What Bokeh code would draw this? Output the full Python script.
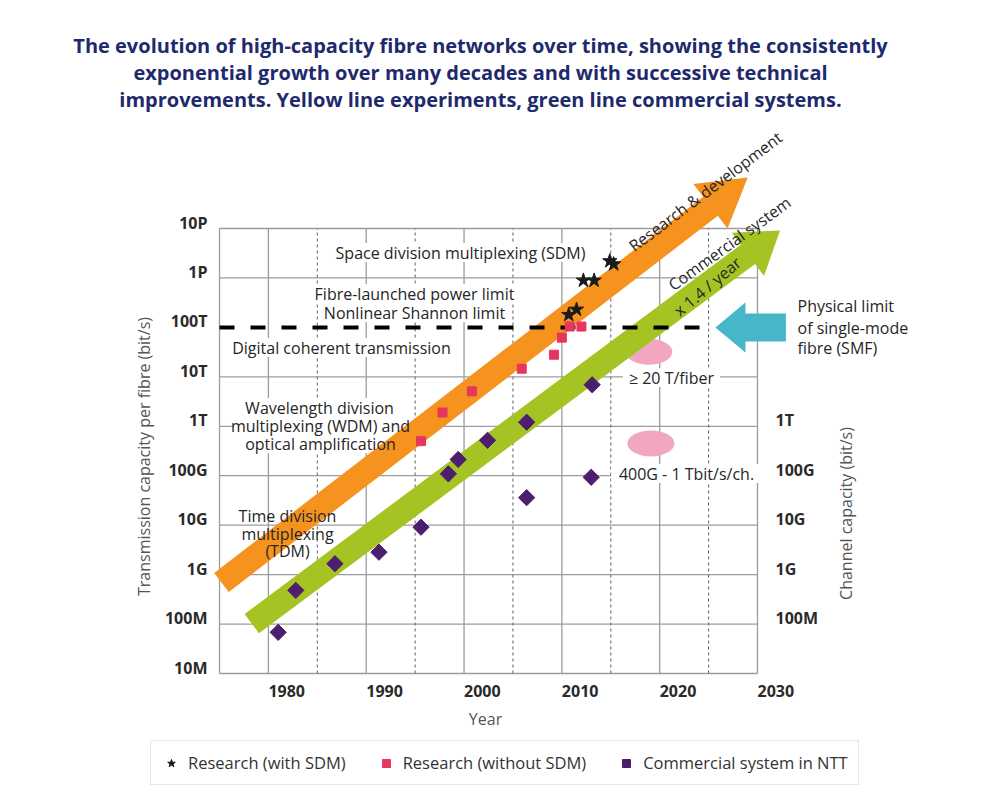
import math
from bokeh.plotting import figure
from bokeh.models import Label, PolyAnnotation, Legend, LegendItem
from bokeh.core.properties import value
from bokeh.embed import file_html
from bokeh.resources import INLINE

# ---------------- data ----------------
# Research with space-division multiplexing (stars)
SDM_YEAR = [2010.7, 2011.5, 2012.2, 2013.3, 2014.9, 2015.3]
SDM_CAP = [1.8e14, 2.3e14, 8.9e14, 8.9e14, 2.2e15, 1.9e15]

# Research without SDM (squares)
NOSDM_YEAR = [1995.6, 1997.8, 2000.8, 2005.9, 2009.2, 2010.0, 2010.8, 2012.0]
NOSDM_CAP = [5.0e11, 1.9e12, 5.1e12, 1.46e13, 2.8e13, 6.2e13, 1.04e14, 1.04e14]

# Commercial systems in NTT (diamonds)
NTT_YEAR = [1981.0, 1982.8, 1986.8, 1991.3, 1995.6, 1998.4, 1999.4, 2002.4,
            2006.4, 2013.1, 2006.4, 2013.0]
NTT_CAP = [6.8e7, 4.8e8, 1.66e9, 2.84e9, 9.1e9, 1.09e11, 2.13e11, 5.2e11,
           1.21e12, 6.9e12, 3.6e10, 9.3e10]

# Physical limit of single-mode fibre
SMF_LIMIT_CAP = 1e14
SMF_LIMIT_YEARS = [1975, 2024.5]

# Future targets (pink ellipses)
TARGET_YEAR = [2018.9, 2019.1]
TARGET_CAP = [3.2e13, 4.5e11]

# Trend arrows: (year, log10 capacity) of tail and tip
RD_ARROW = ((1975.2, 8.84), (2029.0, 17.03))
COM_ARROW = ((1978.3, 8.01), (2032.3, 15.96))
SMF_ARROW = ((2032.9, 14.0), (2025.7, 14.0))

X_TICKS = [1980, 1990, 2000, 2010, 2020, 2030]
X_LABELS = ["1980", "1990", "2000", "2010", "2020", "2030"]
X_DOTTED = [1985, 1995, 2005, 2015, 2025]
Y_TICKS = [1e7, 1e8, 1e9, 1e10, 1e11, 1e12, 1e13, 1e14, 1e15, 1e16]
Y_LABELS = ["10M", "100M", "1G", "10G", "100G", "1T", "10T", "100T", "1P", "10P"]
R_TICKS = [1e8, 1e9, 1e10, 1e11, 1e12]
R_LABELS = ["100M", "1G", "10G", "100G", "1T"]

TITLE_LINES = [
    "The evolution of high-capacity fibre networks over time, showing the consistently",
    "exponential growth over many decades and with successive technical",
    "improvements. Yellow line experiments, green line commercial systems.",
]

# ---------------- layout ----------------
X0, XG1 = 1975, 2030          # gridded area in x
Y0, YG1 = 1e7, 1e16           # gridded area in y
PX_YEAR = 538 / (XG1 - X0)
PX_DEC = 445 / 9.0
GRID_L_PAGE, GRID_B_PAGE = 219, 673   # page pixels of (1975, 10M)
W, H = 992, 790
LABEL_DY = 6 / PX_DEC         # capacity labels sit slightly above their lines
CHAR_W = 7.6                  # approx. advance of a 16px character


def rx(px):
    """page x pixel -> year"""
    return X0 + (px - GRID_L_PAGE) / PX_YEAR


def ry(py):
    """page y pixel -> capacity"""
    return 10 ** (math.log10(Y0) + (GRID_B_PAGE - py) / PX_DEC)


FONT = "Open Sans"
NAVY = "#1E2A6C"
ORANGE = "#F6921E"
GREEN = "#A5C423"
CYAN = "#48B6C9"
PINK = "#F3A6BF"
PURPLE = "#4E1E6E"
RED = "#E6365E"
GRID = "#9C9C9C"
TEXT = "#262626"
AXIS_TXT = "#2A2A2A"
TITLE_GRAY = "#555555"

p = figure(width=W, height=H, x_range=(rx(0), rx(W)), y_range=(ry(H), ry(0)),
           y_axis_type="log", x_axis_location=None, y_axis_location=None,
           output_backend="svg", toolbar_location=None, min_border=0,
           background_fill_color="white", border_fill_color="white")
p.outline_line_color = None
p.grid.visible = False

# grid lines and box of the gridded area
h_lines = [t for t in Y_TICKS if t != SMF_LIMIT_CAP]
p.segment(x0=[X0] * len(h_lines), x1=[XG1] * len(h_lines), y0=h_lines, y1=h_lines,
          line_color=GRID, line_width=1.3, level="underlay")
v_lines = [X0] + X_TICKS
p.segment(x0=v_lines, x1=v_lines, y0=[Y0] * len(v_lines), y1=[YG1] * len(v_lines),
          line_color=GRID, line_width=1.3, level="underlay")
p.segment(x0=X_DOTTED, x1=X_DOTTED, y0=[Y0] * len(X_DOTTED), y1=[YG1] * len(X_DOTTED),
          line_color="#6E6E6E", line_width=1.1, line_dash="3 3", level="underlay")

# tick labels
tick_style = dict(text_font=value(FONT), text_font_size="16px", text_font_style="bold",
                  text_color=AXIS_TXT, text_baseline="middle")
p.text(x=[rx(207)] * len(Y_TICKS), y=[t * 10 ** LABEL_DY for t in Y_TICKS],
       text=Y_LABELS, text_align="right", **tick_style)
p.text(x=[rx(775)] * len(R_TICKS), y=[t * 10 ** LABEL_DY for t in R_TICKS],
       text=R_LABELS, text_align="left", **tick_style)
p.text(x=X_TICKS, y=[ry(690)] * len(X_TICKS), text=X_LABELS, text_align="left",
       **tick_style)

# annotations that sit on white boxes (boxes hide the grid, arrows pass over them)
BOXED = [
    ("Space division multiplexing (SDM)", 460, 252),
    ("Fibre-launched power limit", 414, 293),
    ("Nonlinear Shannon limit", 414, 312),
    ("Digital coherent transmission", 341, 347),
    ("Wavelength division", 319, 407),
    ("multiplexing (WDM) and", 320, 425),
    ("optical amplification", 320, 443),
    ("\u2265 20 T/fiber", 671, 377),
    ("400G - 1 Tbit/s/ch.", 686, 473),
]
p.rect(x=[rx(b[1]) for b in BOXED], y=[ry(b[2]) for b in BOXED],
       width=[len(b[0]) * CHAR_W + 6 for b in BOXED], height=19,
       width_units="screen", height_units="screen",
       fill_color="white", line_color=None)

# target ellipses
p.ellipse(x=TARGET_YEAR, y=TARGET_CAP, width=47, height=26,
          width_units="screen", height_units="screen",
          fill_color=PINK, line_color=None)


# trend arrows as polygons
def arrow_poly(tail, tip, shaft, head_len, head_w):
    sx, sy = (tail[0] - X0) * PX_YEAR, tail[1] * PX_DEC
    tx, ty = (tip[0] - X0) * PX_YEAR, tip[1] * PX_DEC
    dx, dy = tx - sx, ty - sy
    L = math.hypot(dx, dy)
    ux, uy = dx / L, dy / L
    nx, ny = -uy, ux
    bx, by = tx - ux * head_len, ty - uy * head_len
    pts = [(sx + nx * shaft / 2, sy + ny * shaft / 2),
           (bx + nx * shaft / 2, by + ny * shaft / 2),
           (bx + nx * head_w / 2, by + ny * head_w / 2),
           (tx, ty),
           (bx - nx * head_w / 2, by - ny * head_w / 2),
           (bx - nx * shaft / 2, by - ny * shaft / 2),
           (sx - nx * shaft / 2, sy - ny * shaft / 2)]
    xs = [q[0] / PX_YEAR + X0 for q in pts]
    ys = [10 ** (q[1] / PX_DEC) for q in pts]
    return xs, ys


for (tail, tip), col, shaft, hl, hw in [
        (RD_ARROW, ORANGE, 24, 47, 56),
        (COM_ARROW, GREEN, 24, 40, 54),
        (SMF_ARROW, CYAN, 28, 30, 50)]:
    xs, ys = arrow_poly(tail, tip, shaft, hl, hw)
    p.add_layout(PolyAnnotation(xs=xs, ys=ys, fill_color=col, fill_alpha=1.0,
                                line_color=None))


def lab(text, px, py, size="16px", align="center", angle=0,
        color=TEXT, style="normal"):
    p.add_layout(Label(x=rx(px), y=ry(py), text=text, text_align=align,
                       text_baseline="middle", text_font=FONT, text_font_size=size,
                       text_color=color, text_font_style=style,
                       angle=angle, angle_units="deg"))


for text, px, py in BOXED:
    lab(text, px, py)

# title
for i, line in enumerate(TITLE_LINES):
    lab(line, 480, 45 + 27 * i, size="20px", color=NAVY, style="bold")

# axis titles
lab("Transmission capacity per fibre (bit/s)", 143, 456, angle=90, color=TITLE_GRAY)
lab("Year", 485, 718, color=TITLE_GRAY)
lab("Channel capacity (bit/s)", 845, 513, angle=90, color=TITLE_GRAY)

# other annotations
lab("Time division", 287, 515)
lab("multiplexing", 287, 533)
lab("(TDM)", 287, 550)
lab("Physical limit", 797, 305, align="left")
lab("of single-mode", 797, 327, align="left")
lab("fibre (SMF)", 797, 347, align="left")
lab("Research & development", 705, 191, angle=37)
lab("Commercial system", 729, 243, angle=36)
lab("x 1.4 / year", 707, 286, angle=40)

# physical limit dashed line
p.line(x=SMF_LIMIT_YEARS, y=[SMF_LIMIT_CAP] * 2, line_color="black",
       line_width=4, line_dash="15 16", level="overlay")

# data points
r_sdm = p.scatter(SDM_YEAR, SDM_CAP, marker="star", size=15,
                  fill_color="#1A1A1A", line_color="#1A1A1A", level="overlay")
r_nosdm = p.scatter(NOSDM_YEAR, NOSDM_CAP, marker="square", size=9,
                    fill_color=RED, line_color=RED, level="overlay")
r_ntt = p.scatter(NTT_YEAR, NTT_CAP, marker="square", angle=math.pi / 4,
                  size=11.5, fill_color=PURPLE, line_color=PURPLE, level="overlay")

legend = Legend(items=[LegendItem(label="Research (with SDM)", renderers=[r_sdm]),
                       LegendItem(label="Research (without SDM)", renderers=[r_nosdm]),
                       LegendItem(label="Commercial system in NTT", renderers=[r_ntt])],
                orientation="horizontal", location=(150, H - 785),
                border_line_color="#CFCFCF", border_line_width=1.5,
                background_fill_color="white", background_fill_alpha=1.0,
                label_text_font=FONT, label_text_font_size="16.5px",
                label_text_color="#333333", glyph_width=20, glyph_height=20,
                spacing=30, padding=10, label_standoff=7, margin=0)
p.add_layout(legend)

open("out.html", "w").write(file_html(p, INLINE))
